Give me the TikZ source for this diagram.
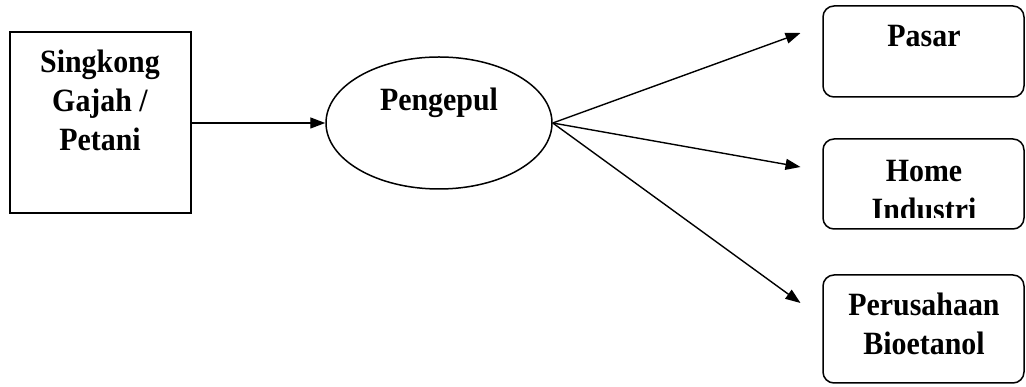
\documentclass[tikz,border=0pt]{standalone}
\usepackage{fontspec}
\setmainfont[FakeStretch=0.92]{Liberation Serif}
\usetikzlibrary{arrows.meta,shapes.geometric}
\begin{document}
\begin{tikzpicture}[x=1pt,y=1pt,
  lbl/.style={font=\fontsize{32.5}{38.7}\selectfont\bfseries, align=center, inner sep=0pt},
  sq/.style={draw, line width=1.5pt, inner sep=0pt},
  rbox/.style={draw, line width=1.5pt, rounded corners=11pt, minimum width=201pt, inner sep=0pt},
  arr/.style={line width=1.4pt, -{Triangle[length=15pt,width=11pt]}}]
\useasboundingbox (0,0) rectangle (1026,387);
% left box
\node[sq, minimum width=181pt, minimum height=181pt] (farm) at (100.5,264.5) {};
\node[lbl] (farmtxt) at (100,286.5) {Singkong\\Gajah /\\Petani};
% ellipse
\node[draw, ellipse, line width=1.5pt, minimum width=226pt, minimum height=132pt, inner sep=0pt] (peng) at (439,264) {};
\node[lbl, anchor=base] (pengtxt) at (439,276) {Pengepul};
% right boxes
\node[rbox, minimum height=91pt] (pasar) at (923.5,335.5) {};
\node[lbl, anchor=base] (pasartxt) at (924,340) {Pasar};
\node[rbox, minimum height=90pt] (home) at (923.5,203) {};
\begin{scope}
  \clip (home.west |- 0,169) rectangle (home.north east);
  \node[lbl] (hometxt) at (924,196.3) {Home\\Industri};
\end{scope}
\node[rbox, minimum height=108pt] (peru) at (923.5,58) {};
\node[lbl] (perutxt) at (924,63) {Perusahaan\\Bioetanol};
% arrows
\coordinate (t1) at (800.5,354);
\coordinate (t2) at (800.5,220);
\coordinate (t3) at (800.5,84);
\draw[arr] (farm.east |- 0,264) -- (peng.west);
\draw[arr] (peng.east) -- (t1);
\draw[arr] (peng.east) -- (t2);
\draw[arr] (peng.east) -- (t3);
\end{tikzpicture}
\end{document}
